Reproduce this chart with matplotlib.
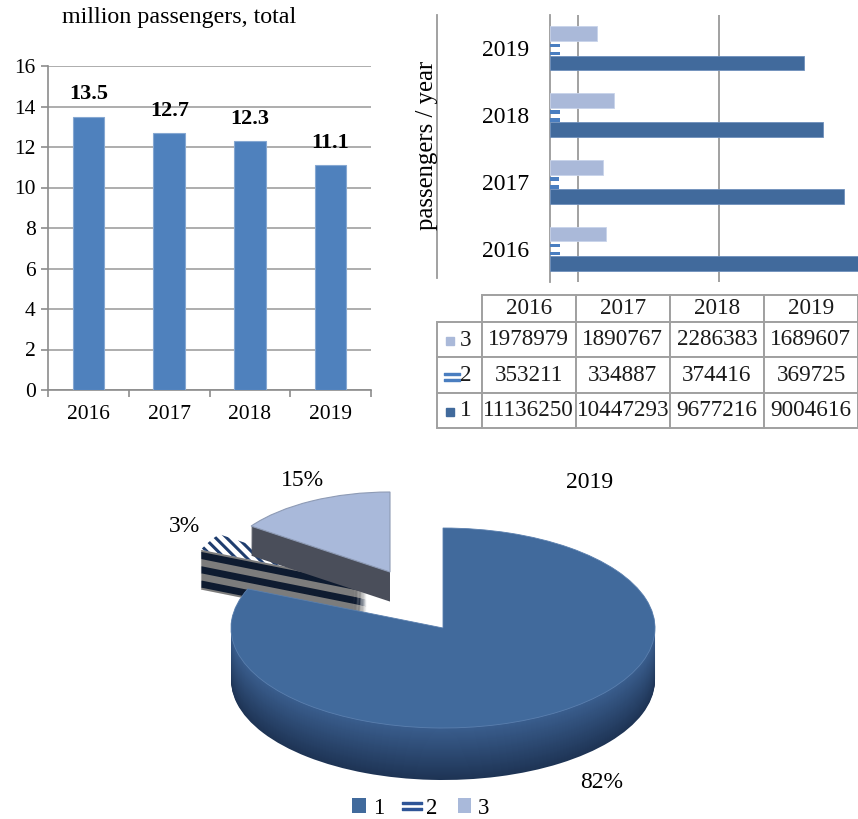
import matplotlib
matplotlib.use('Agg')
import matplotlib.pyplot as plt
import numpy as np
from matplotlib.lines import Line2D
from matplotlib.patches import Patch

# ---------------- data ----------------
years = ['2016', '2017', '2018', '2019']
total_mln = [13.5, 12.7, 12.3, 11.1]
series_names = ['1', '2', '3']
s1 = [11136250, 10447293, 9677216, 9004616]
s2 = [353211, 334887, 374416, 369725]
s3 = [1978979, 1890767, 2286383, 1689607]
pie_year = '2019'
pie_values = [s1[3], s2[3], s3[3]]
pie_labels = ['82%', '3%', '15%']

# ---------------- setup ----------------
W, H = 858, 819
plt.rcParams['font.family'] = ['Liberation Serif', 'DejaVu Serif']
plt.rcParams['hatch.linewidth'] = 2.2
fig = plt.figure(figsize=(W / 100, H / 100), dpi=100)


def fx(px):
    return px / W


def fy(py):
    return 1 - py / H


def rect(l, t, r, b):
    return [l / W, 1 - b / H, (r - l) / W, (b - t) / H]


C1 = '#416A9C'
C2 = '#4A7EC0'
C3 = '#AAB9D9'
GRID = '#A0A0A0'

# ---------------- left: totals ----------------
ax1 = fig.add_axes(rect(48.3, 66, 370.7, 390))
x = np.arange(len(years))
ax1.bar(x, total_mln, width=0.39, color='#4F81BD', edgecolor='#86A8D2', lw=0.8, zorder=3)
ax1.set_xlim(-0.5, 3.5)
ax1.set_ylim(0, 16)
ax1.set_yticks(range(0, 17, 2))
ax1.grid(axis='y', color=GRID, lw=1.2, zorder=0)
for sp in ['top', 'right']:
    ax1.spines[sp].set_visible(False)
for sp in ['left', 'bottom']:
    ax1.spines[sp].set_color('#8C8C8C')
    ax1.spines[sp].set_linewidth(1.2)
ax1.set_xticks(x)
ax1.set_xticklabels(years, fontsize=15.5)
ax1.set_xticks(np.arange(-0.5, 4, 1), minor=True)
ax1.tick_params(axis='x', which='major', length=0, pad=11)
ax1.tick_params(axis='x', which='minor', length=5, width=1.2, color='#8C8C8C', direction='out')
ax1.tick_params(axis='y', length=5, width=1.2, color='#8C8C8C', labelsize=15.5, pad=4)
for xi, v in zip(x, total_mln):
    ax1.annotate(f'{v:.1f}', (xi, v), xytext=(0, 16), textcoords='offset points',
                 ha='center', va='center', fontsize=16, fontweight='bold')
fig.text(fx(62), fy(17), 'million passengers, total', fontsize=17.3, ha='left', va='center')

# ---------------- right: horizontal bars ----------------
ax2 = fig.add_axes(rect(549.7, 15, 858, 282))
yy = np.arange(len(years))
h = 0.22
ax2.barh(yy - h, s1, height=h, color=C1, edgecolor='#6F90BC', lw=0.6, zorder=3)
ax2.barh(yy + h, s3, height=h, color=C3, edgecolor='#C8D3EA', lw=0.6, zorder=3)
ax2.barh(yy + 0.045, s2, height=0.052, color=C2, lw=0, zorder=3)
ax2.barh(yy - 0.075, s2, height=0.052, color=C2, lw=0, zorder=3)
ax2.set_ylim(-0.5, 3.5)
ax2.set_xlim(0, 10.93e6)
ax2.set_xticks([1e6, 6e6])
ax2.set_xticklabels([])
ax2.grid(axis='x', color='#9A9A9A', lw=1.3, zorder=0)
ax2.set_yticks(yy)
ax2.set_yticklabels(years, fontsize=17)
ax2.tick_params(length=0)
ax2.tick_params(axis='y', pad=15)
for sp in ['top', 'right', 'bottom']:
    ax2.spines[sp].set_visible(False)
ax2.spines['left'].set_color('#9A9A9A')
ax2.spines['left'].set_linewidth(1.3)
fig.add_artist(Line2D([fx(436.7)] * 2, [fy(15), fy(278)], color='#9A9A9A', lw=1.3,
                      transform=fig.transFigure))
fig.text(fx(427), fy(145), 'passengers / year', rotation=90, fontsize=17.8,
         ha='center', va='center')

# ---------------- table ----------------
axt = fig.add_axes(rect(436.7, 295, 858, 428.3))
axt.axis('off')
table_rows = [s3, s2, s1]
row_names = ['3', '2', '1']
cell_text = [[''] + [str(v) for v in vals] for vals in table_rows]
tbl = axt.table(cellText=cell_text, colLabels=[''] + years, cellLoc='center',
                bbox=[0, 0, 1, 1])
tbl.auto_set_font_size(False)
tbl.set_fontsize(16.7)
col_w = [45, 94.3, 94.3, 94.3, 94.3]
row_h = [27, 35.3, 35.3, 35.3]
for (r, c), cell in tbl.get_celld().items():
    cell.set_width(col_w[c])
    cell.set_height(row_h[r])
    cell.set_edgecolor('#A0A0A0')
    cell.set_linewidth(1.4)
    cell.get_text().set_color('#1A1A1A')
tbl[0, 0].visible_edges = 'open'

row_centers = [340, 375.6, 410.9]
key_colors = [C3, C2, C1]
for name, yc, kc in zip(row_names, row_centers, key_colors):
    fig.text(fx(466), fy(yc), name, fontsize=16.7, ha='center', va='center', color='#1A1A1A')
    if name == '2':
        fig.add_artist(Line2D([fx(452)], [fy(yc + 1)], ls='none', marker='$=$', ms=12,
                              color=kc, transform=fig.transFigure))
    else:
        fig.add_artist(Line2D([fx(449.5)], [fy(yc + 1)], ls='none', marker='s', ms=6,
                              color=kc, transform=fig.transFigure))

# ---------------- pie (pseudo 3D) ----------------
axp = fig.add_axes(rect(0, 460, 858, 800))
# perspective placement of the pulled-out slices (x, y offsets, radius, thickness)
pull = {1: (-0.36, 0.45, 0.85, 0.40), 2: (-0.25, 0.56, 0.8, 0.30)}
thick = 0.52
n = 52
dzs = np.linspace(-thick, 0, n)
side1_top = np.array([0x3A, 0x5E, 0x8E]) / 255
side1_bot = np.array([0x1E, 0x34, 0x55]) / 255
for i, dz in enumerate(dzs):
    top = (i == n - 1)
    wedges, _ = axp.pie(pie_values, startangle=90, counterclock=False,
                        center=(0, dz), radius=1.0, wedgeprops=dict(lw=0))
    for k, w in enumerate(wedges):
        if k > 0:
            ox, oy, rad, th = pull[k]
            if dz < -th and not top:
                w.remove()
                continue
            w.set_radius(rad)
            w.set_center((ox, oy + dz))
        if k == 0:
            if top:
                w.set_facecolor(C1)
                w.set_edgecolor('#5A7FAE')
                w.set_linewidth(0.6)
                w.set_zorder(6)
            else:
                t = i / (n - 1)
                w.set_facecolor(side1_bot * (1 - t) + side1_top * t)
                w.set_zorder(5 + i * 1e-3)
        elif k == 1:
            if top:
                w.set_facecolor('white')
                w.set_edgecolor('#1F3D6E')
                w.set_hatch('\\\\\\')
                w.set_linewidth(0)
                w.set_zorder(2)
            else:
                band = int((dz + thick) / 0.07) % 2
                w.set_facecolor('#0E1B30' if band == 0 else '#7C7C7C')
                w.set_zorder(1 + i * 1e-3)
        else:
            if top:
                w.set_facecolor('#A9B9DA')
                w.set_edgecolor('#8E9BB5')
                w.set_linewidth(0.8)
                w.set_zorder(4)
            else:
                w.set_facecolor('#4A4E5A')
                w.set_zorder(3 + i * 1e-3)
axp.set_aspect('auto')
axp.set_xlim(-443 / 212, (858 - 443) / 212)
axp.set_ylim(-1.72, 1.68)
axp.axis('off')

fig.text(fx(590), fy(482), pie_year, fontsize=17, ha='center', va='center')
fig.text(fx(302), fy(481), pie_labels[2], fontsize=17, ha='center', va='center')
fig.text(fx(185), fy(527), pie_labels[1], fontsize=17, ha='center', va='center')
fig.text(fx(602), fy(782), pie_labels[0], fontsize=17, ha='center', va='center')

handles = [Patch(facecolor=C1),
           Line2D([], [], ls='none', marker='$=$', ms=14, color='#2F5597'),
           Patch(facecolor='#A9B9DA')]
fig.legend(handles, series_names, loc='center', bbox_to_anchor=(fx(421), fy(808)), ncol=3,
           frameon=False, fontsize=16.5, handlelength=0.6, handleheight=0.6,
           handletextpad=0.3, columnspacing=0.9, borderpad=0)

fig.savefig('out.png', dpi=100)
